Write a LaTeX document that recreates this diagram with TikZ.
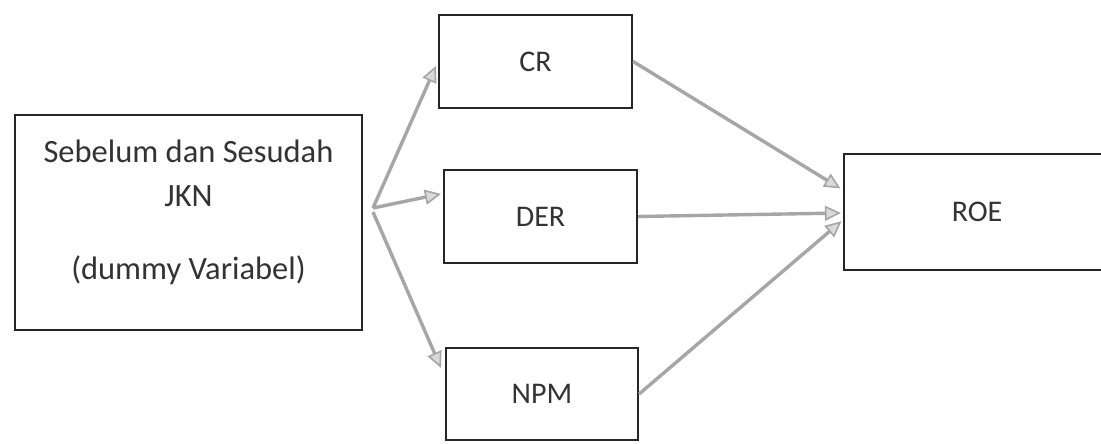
\documentclass[tikz,border=0pt]{standalone}
\usepackage{fontspec}
\setmainfont{Carlito}
\usetikzlibrary{arrows.meta,calc}
\begin{document}
\begin{tikzpicture}[x=1pt,y=1pt,
  box/.style={draw=black!85,line width=2.2pt,fill=white,inner sep=0pt},
  lbl/.style={text=black!80,font=\fontsize{30}{44}\selectfont,align=center},
  biglbl/.style={text=black!80,font=\fontsize{32.5}{44}\selectfont,align=center},
  conn/.style={draw=gray!70,line width=3.4pt,-{Triangle[length=16pt,width=15pt,fill=gray!30,line width=1.6pt]}}]
\useasboundingbox (0,0) rectangle (1101,444);
\fill[white] (0,0) rectangle (1101,444);
% boxes
\node[box,minimum width=347pt,minimum height=215pt] (L) at (188.5,221.5) {};
\node[biglbl] (Ltext) at (188.5,232) {Sebelum dan Sesudah\\JKN\\[29pt](dummy Variabel)};
\node[box,minimum width=193pt,minimum height=93pt,lbl] (CR) at (535.5,382.5) {CR};
\node[box,minimum width=193pt,minimum height=93pt,lbl] (DER) at (540.5,227.5) {DER};
\node[box,minimum width=192pt,minimum height=92pt,lbl] (NPM) at (542,50) {NPM};
\node[box,minimum width=266pt,minimum height=116pt,lbl] (ROE) at (977,232) {ROE};
% source point of fan arrows
\coordinate (src) at (373,236);
\draw[conn,shorten >=5pt] (src) -- (CR.west);
\draw[conn,shorten >=2pt] (src) -- ([yshift=23pt]DER.west);
\draw[conn,shorten >=10pt] ([yshift=-4pt]src) -- ([yshift=17pt]NPM.west);
% arrows into ROE
\draw[conn,shorten >=3pt] (CR.east) -- ([yshift=22pt]ROE.west);
\draw[conn,shorten >=2pt] (DER.east) -- ([yshift=-1pt]ROE.west);
\draw[conn,shorten >=2pt] (NPM.east) -- ([yshift=-8pt]ROE.west);
\end{tikzpicture}
\end{document}
